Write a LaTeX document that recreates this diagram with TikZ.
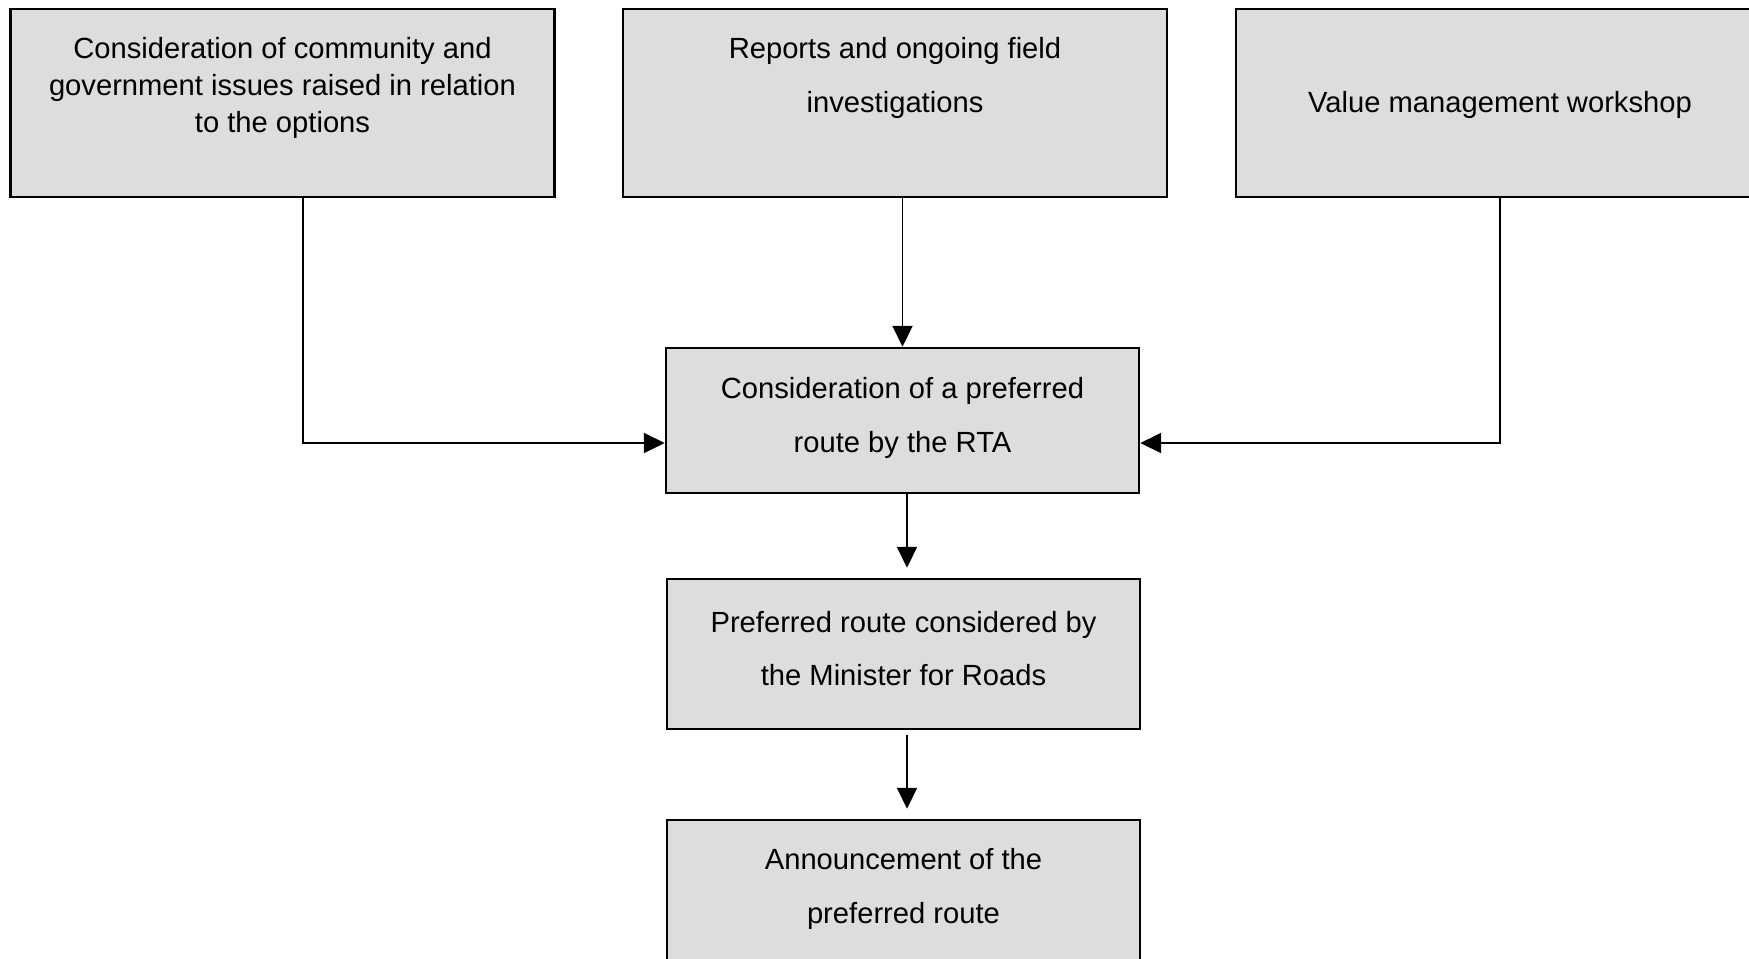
\documentclass[tikz,border=0pt]{standalone}
\usepackage{fontspec}
\setmainfont{Liberation Sans}
\usetikzlibrary{arrows.meta}
\definecolor{boxgray}{RGB}{221,221,221}

\begin{document}
\begin{tikzpicture}[
	box/.style={draw=black, fill=boxgray, line width=0.7pt, inner sep=0pt},
	wide/.style={minimum width=5.44cm, minimum height=1.88cm},
	narrow/.style={minimum width=4.73cm},
	txt/.style={align=center, inner sep=0pt, font=\fontsize{8.3}{15.2}\selectfont},
	conn/.style={line width=0.55pt, -{Triangle[length=0.21cm,width=0.2cm]}}
]

	% ---- frame

	\useasboundingbox (0,0) rectangle (17.49,-9.58);

	% ---- top boxes

	\node[box, wide] (issues) at (2.825,-1.03) {};
	\node[box, wide] (reports) at (8.95,-1.03) {};
	\node[box, wide] (workshop) at (15.08,-1.03) {};

	% ---- column boxes

	\node[box, narrow, minimum height=1.45cm] (rta) at (9.025,-4.205) {};
	\node[box, narrow, minimum height=1.5cm] (minister) at (9.035,-6.54) {};
	\node[box, narrow, minimum height=1.5cm] (announce) at (9.035,-8.95) {};

	% ---- texts

	\node[txt, font=\fontsize{8.3}{10.5}\selectfont] (issuesT) at ([yshift=0.15cm]issues.center)
		{Consideration of community and\\government issues raised in relation\\to the options};
	\node[txt] (reportsT) at ([yshift=0.25cm]reports.center) {Reports and ongoing field\\investigations};
	\node[txt] (workshopT) at ([xshift=-0.08cm,yshift=-0.015cm]workshop.center) {Value management workshop};
	\node[txt] (rtaT) at ([yshift=0.025cm]rta.center) {Consideration of a preferred\\route by the RTA};
	\node[txt] (ministerT) at ([yshift=0.055cm]minister.center) {Preferred route considered by\\the Minister for Roads};
	\node[txt] (announceT) at ([yshift=0.06cm]announce.center) {Announcement of the\\preferred route};

	% ---- connectors

	\draw[conn] ([xshift=0.205cm]issues.south) |- ([yshift=-0.225cm]rta.west);
	\draw[conn] (rta.north |- reports.south) -- (rta.north);
	\draw[conn] ([xshift=-0.08cm]workshop.south) |- ([yshift=-0.225cm]rta.east);

	\draw[conn, shorten >=0.1cm] ([xshift=0.045cm]rta.south) coordinate (d1) -- (d1 |- minister.north);
	\draw[conn, shorten <=0.05cm, shorten >=0.1cm] ([xshift=0.035cm]minister.south) coordinate (e1) -- (e1 |- announce.north);

\end{tikzpicture}
\end{document}
